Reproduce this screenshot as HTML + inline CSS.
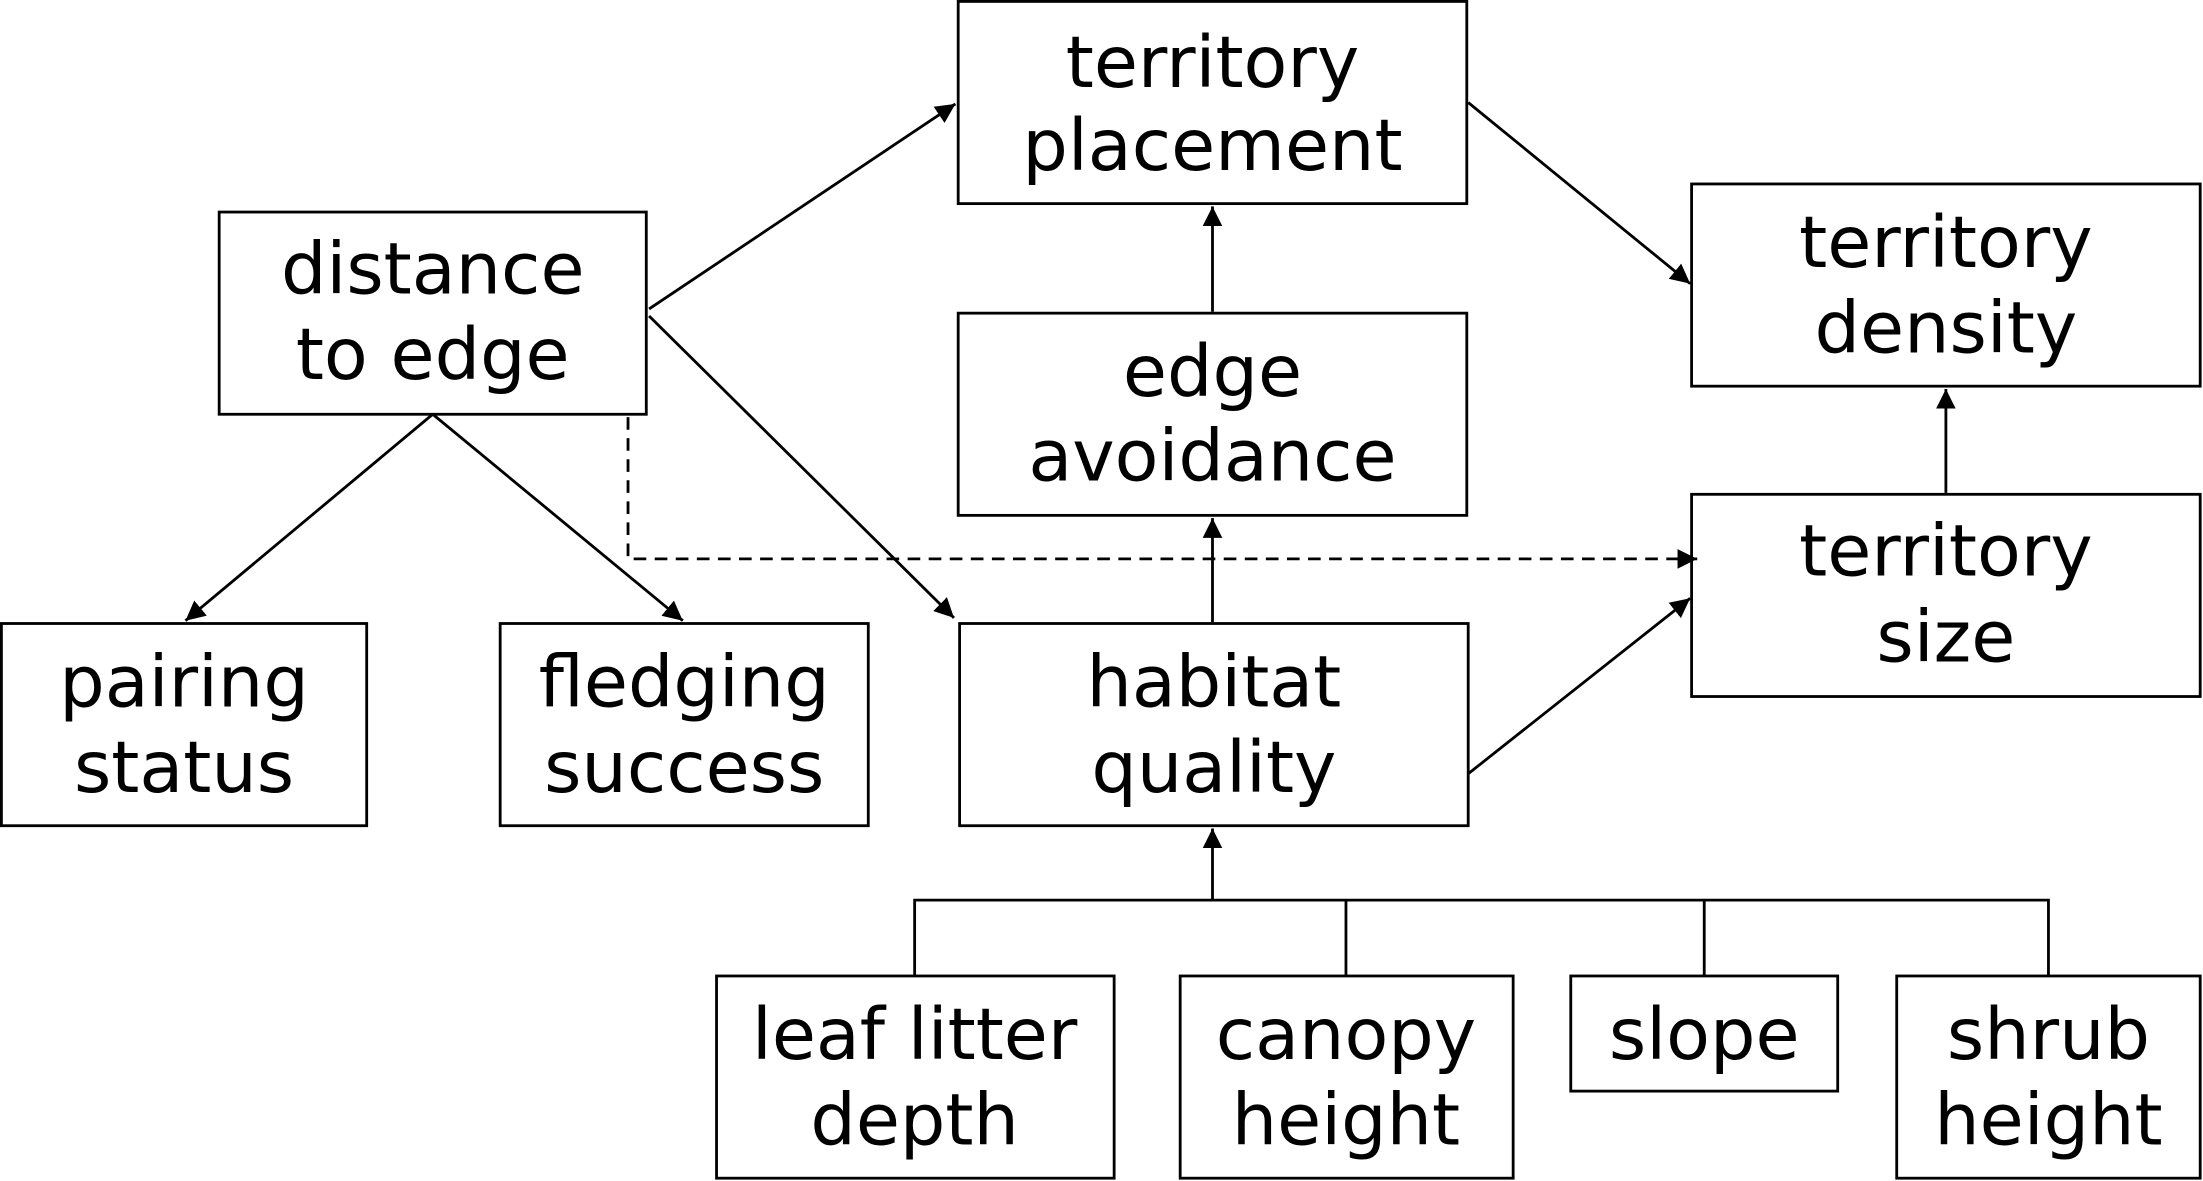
<!DOCTYPE html>
<html><head><meta charset="utf-8"><style>
html,body{margin:0;padding:0;background:#fff;}
svg{display:block;}
text{font-family:"DejaVu Sans","Liberation Sans",sans-serif;font-size:51px;text-anchor:middle;fill:#000;}
</style></head><body>
<svg width="2203" height="1181" viewBox="0 0 1568 841" preserveAspectRatio="none" xmlns="http://www.w3.org/2000/svg">
<defs>
<marker id="b" viewBox="0 0 10 10" refX="10" refY="5" markerWidth="14" markerHeight="14" orient="auto" markerUnits="userSpaceOnUse"><path d="M0,0 L10,5 L0,10 z" fill="#000"/></marker></defs>
<g fill="none" stroke="#000" stroke-width="2">
<rect x="682" y="1" width="362" height="144"/>
<rect x="156" y="151" width="304" height="144"/>
<rect x="1204" y="131" width="362" height="144"/>
<rect x="682" y="223" width="362" height="144"/>
<rect x="1204" y="352" width="362" height="144"/>
<rect x="1" y="444" width="260" height="144"/>
<rect x="356" y="444" width="262" height="144"/>
<rect x="683" y="444" width="362" height="144"/>
<rect x="510" y="695" width="283" height="144"/>
<rect x="840" y="695" width="237" height="144"/>
<rect x="1118" y="695" width="190" height="82"/>
<rect x="1350" y="695" width="216" height="144"/>
<g marker-end="url(#b)">
<line x1="462" y1="220" x2="680" y2="74"/>
<line x1="462" y1="225" x2="679" y2="440"/>
<line x1="308" y1="295" x2="132" y2="442"/>
<line x1="308" y1="295" x2="486" y2="442"/>
<line x1="863" y1="222" x2="863" y2="147"/>
<line x1="863" y1="443" x2="863" y2="369"/>
<line x1="1045" y1="73" x2="1203" y2="202"/>
<line x1="1385" y1="351" x2="1385" y2="277"/>
<line x1="1045" y1="551" x2="1203" y2="426"/>
<line x1="863" y1="641" x2="863" y2="590"/>
<polyline points="447,297 447,398 1208,398" stroke-dasharray="9,6"/>
</g>
<polyline points="651,695 651,641 1458,641 1458,695"/>
<line x1="958" y1="641" x2="958" y2="695"/>
<line x1="1213" y1="641" x2="1213" y2="695"/>
</g>
<text x="863" y="62">territory</text><text x="863" y="121">placement</text>
<text x="308" y="209">distance</text><text x="308" y="270">to edge</text>
<text x="1385" y="190">territory</text><text x="1385" y="251">density</text>
<text x="863" y="282">edge</text><text x="863" y="342">avoidance</text>
<text x="1385" y="410">territory</text><text x="1385" y="471">size</text>
<text x="131" y="503">pairing</text><text x="131" y="564">status</text>
<text x="487" y="503">fledging</text><text x="487" y="564">success</text>
<text x="864" y="503">habitat</text><text x="864" y="564">quality</text>
<text x="651" y="754">leaf litter</text><text x="651" y="815">depth</text>
<text x="958" y="754">canopy</text><text x="958" y="815">height</text>
<text x="1213" y="754">slope</text>
<text x="1458" y="754">shrub</text><text x="1458" y="815">height</text>
</svg>
</body></html>
